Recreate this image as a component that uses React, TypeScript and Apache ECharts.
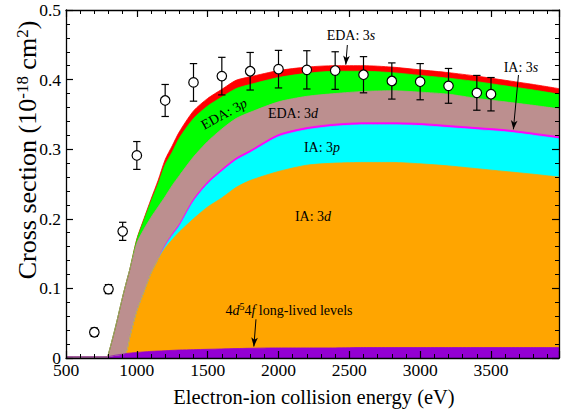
import React, { useEffect, useRef } from 'react';
import * as echarts from 'echarts';

// Model energy grid (eV)
const energy = [500, 790, 800, 850, 900, 925, 950, 1000, 1050, 1100, 1150, 1200, 1250, 1300, 1400, 1500, 1600, 1700, 1800, 2000, 2200, 2400, 2600, 2800, 3000, 3200, 3400, 3600, 3800, 3980];

// Contributions (10^-18 cm^2), listed from bottom layer to top layer
const longLived = [0.0015, 0.0015, 0.002, 0.004, 0.0055, 0.0065, 0.007, 0.008, 0.0088, 0.0095, 0.010, 0.0105, 0.011, 0.0115, 0.012, 0.0125, 0.013, 0.0135, 0.014, 0.0145, 0.0145, 0.0145, 0.015, 0.015, 0.015, 0.015, 0.015, 0.015, 0.015, 0.015];
const ia3d = [0, 0, 0, 0, 0, 0.0015, 0.023, 0.060, 0.0862, 0.1125, 0.132, 0.1475, 0.159, 0.1695, 0.188, 0.2045, 0.217, 0.2315, 0.241, 0.2535, 0.2625, 0.2655, 0.266, 0.266, 0.264, 0.261, 0.257, 0.253, 0.249, 0.245];
const ia3p = [0, 0, 0, 0, 0, 0, 0, 0, 0, 0, 0, 0.0025, 0.006, 0.0085, 0.025, 0.033, 0.038, 0.039, 0.040, 0.050, 0.051, 0.053, 0.054, 0.054, 0.055, 0.055, 0.056, 0.057, 0.056, 0.055];
const ia3s = [0, 0, 0, 0, 0, 0, 0, 0, 0, 0, 0, 0.0015, 0.002, 0.0025, 0.003, 0.003, 0.003, 0.003, 0.003, 0.003, 0.003, 0.003, 0.003, 0.003, 0.003, 0.003, 0.003, 0.003, 0.003, 0.003];
const eda3d = [0, 0, 0.004, 0.041, 0.0825, 0.100, 0.097, 0.097, 0.090, 0.080, 0.075, 0.070, 0.070, 0.070, 0.061, 0.058, 0.058, 0.057, 0.055, 0.047, 0.045, 0.044, 0.045, 0.046, 0.045, 0.045, 0.042, 0.040, 0.040, 0.040];
const eda3p = [0, 0, 0, 0, 0, 0, 0, 0.005, 0.013, 0.023, 0.033, 0.046, 0.048, 0.054, 0.055, 0.051, 0.046, 0.043, 0.040, 0.035, 0.033, 0.032, 0.029, 0.026, 0.024, 0.023, 0.024, 0.023, 0.022, 0.021];
const eda3s = [0, 0, 0, 0, 0, 0, 0, 0.001, 0.002, 0.003, 0.005, 0.007, 0.009, 0.009, 0.011, 0.011, 0.011, 0.012, 0.011, 0.010, 0.009, 0.008, 0.008, 0.008, 0.008, 0.008, 0.008, 0.008, 0.008, 0.008];

// Experiment
const expEnergy = [700, 800, 900, 1000, 1200, 1400, 1600, 1800, 2000, 2200, 2400, 2600, 2800, 3000, 3200, 3400, 3500];
const expValue = [0.037, 0.099, 0.182, 0.291, 0.370, 0.396, 0.405, 0.412, 0.415, 0.414, 0.413, 0.407, 0.398, 0.397, 0.391, 0.381, 0.379];
const expError = [0.006, 0.0065, 0.013, 0.020, 0.023, 0.027, 0.027, 0.027, 0.027, 0.0275, 0.027, 0.026, 0.026, 0.026, 0.025, 0.025, 0.024];

// Axes
const xTicks = [500, 1000, 1500, 2000, 2500, 3000, 3500];
const yTicks = [0, 0.1, 0.2, 0.3, 0.4, 0.5];
const xMin = 500;
const xMax = 3980;

const FONT = "'Liberation Serif', 'Times New Roman', serif";

const layers = [
  { name: '4d5 4f long-lived levels', data: longLived, color: '#9400D3' },
  { name: 'IA: 3d', data: ia3d, color: '#FFA500' },
  { name: 'IA: 3p', data: ia3p, color: '#00FFFF' },
  { name: 'IA: 3s', data: ia3s, color: '#FF00FF' },
  { name: 'EDA: 3d', data: eda3d, color: '#BC8F8F' },
  { name: 'EDA: 3p', data: eda3p, color: '#00FF00' },
  { name: 'EDA: 3s', data: eda3s, color: '#FF0000' },
];

const axisBase = {
  type: 'value' as const,
  axisLine: { show: true, onZero: false, lineStyle: { color: '#000', width: 1.3 } },
  axisTick: { show: true, inside: true, length: 7, lineStyle: { color: '#000', width: 1.2 } },
  minorTick: { show: true, splitNumber: 5, length: 4, lineStyle: { color: '#000', width: 1 } },
  splitLine: { show: false },
  minorSplitLine: { show: false },
  splitArea: { show: false },
  z: 5,
};

const richBase = {
  n: { fontSize: 14, fontFamily: FONT, fill: '#000', verticalAlign: 'bottom' },
  i: { fontSize: 14, fontFamily: FONT, fill: '#000', fontStyle: 'italic', verticalAlign: 'bottom' },
  s: { fontSize: 10, fontFamily: FONT, fill: '#000', verticalAlign: 'top', padding: [0, 0, 6, 0] },
};

function label(text: string, x: number, y: number, rotation = 0) {
  return {
    type: 'text',
    x,
    y,
    rotation,
    z: 20,
    style: {
      text,
      fontSize: 14,
      fontFamily: FONT,
      fill: '#000',
      align: 'center',
      verticalAlign: 'middle',
      rich: richBase,
    },
  };
}

export default function App() {
  const ref = useRef<HTMLDivElement>(null);

  useEffect(() => {
    if (!ref.current) return;
    const chart = echarts.init(ref.current, null, { renderer: 'svg' });

    // running totals (layer tops), bottom layer first
    const running = energy.map(() => 0);
    const tops = layers.map((l) => {
      const top = energy.map((e, i) => {
        running[i] += l.data[i];
        return [e, running[i]];
      });
      return { ...l, top };
    });

    // draw the highest boundary first, so each lower layer paints over it
    const areaSeries = tops
      .slice()
      .reverse()
      .map((l) => ({
        name: l.name,
        type: 'line',
        data: l.top,
        showSymbol: false,
        smooth: 0.25,
        lineStyle: { color: l.color, width: 0.8 },
        areaStyle: { color: l.color, opacity: 1, origin: 'start' },
        z: 2,
        silent: true,
      }));

    const option: any = {
      animation: false,
      grid: { left: 66, right: 2, top: 10, bottom: 57, containLabel: false },
      xAxis: [
        {
          ...axisBase,
          position: 'bottom',
          min: xMin,
          max: xMax,
          interval: 500,
          axisLabel: {
            color: '#000',
            fontFamily: FONT,
            fontSize: 17.5,
            margin: 3,
            formatter: (v: number) => (xTicks.includes(v) ? String(v) : ''),
          },
        },
        {
          ...axisBase,
          position: 'top',
          min: xMin,
          max: xMax,
          interval: 500,
          axisLabel: { show: false },
        },
      ],
      yAxis: [
        {
          ...axisBase,
          position: 'left',
          min: 0,
          max: 0.5,
          interval: 0.1,
          axisLabel: {
            color: '#000',
            fontFamily: FONT,
            fontSize: 17.5,
            margin: 5,
            formatter: (v: number) => {
              const t = yTicks.find((k) => Math.abs(k - v) < 1e-9);
              if (t === undefined) return '';
              return t === 0 ? '0' : t.toFixed(1);
            },
          },
        },
        {
          ...axisBase,
          position: 'right',
          min: 0,
          max: 0.5,
          interval: 0.1,
          axisLabel: { show: false },
        },
      ],
      series: [
        ...areaSeries,
        {
          type: 'custom',
          name: 'error',
          data: expEnergy.map((e, i) => [e, expValue[i], expError[i]]),
          encode: { x: 0, y: 1 },
          z: 6,
          silent: true,
          renderItem: (params: any, api: any) => {
            const x = api.value(0);
            const y = api.value(1);
            const err = api.value(2);
            const top = api.coord([x, y + err]);
            const bot = api.coord([x, y - err]);
            const hw = 3.7;
            const st = { stroke: '#000', lineWidth: 1.2 };
            return {
              type: 'group',
              children: [
                { type: 'line', shape: { x1: top[0], y1: top[1], x2: bot[0], y2: bot[1] }, style: st },
                { type: 'line', shape: { x1: top[0] - hw, y1: top[1], x2: top[0] + hw, y2: top[1] }, style: st },
                { type: 'line', shape: { x1: bot[0] - hw, y1: bot[1], x2: bot[0] + hw, y2: bot[1] }, style: st },
              ],
            };
          },
        },
        {
          type: 'scatter',
          name: 'experiment',
          data: expEnergy.map((e, i) => [e, expValue[i]]),
          symbol: 'circle',
          symbolSize: 9.5,
          itemStyle: { color: '#fff', borderColor: '#000', borderWidth: 1.2, opacity: 1 },
          z: 7,
          silent: true,
          markLine: {
            silent: true,
            symbol: ['none', 'arrow'],
            symbolSize: [5, 9],
            label: { show: false },
            lineStyle: { color: '#000', width: 1, type: 'solid' },
            emphasis: { disabled: true },
            data: [
              [{ coord: [2486, 0.4497] }, { coord: [2475, 0.4215] }],
              [{ coord: [3694, 0.4066] }, { coord: [3658, 0.3285] }],
              [{ coord: [1841, 0.0556] }, { coord: [1826, 0.0165] }],
            ],
          },
        },
      ],
      graphic: [
        label('{n|EDA: 3}{i|s}', 351, 35),
        label('{n|IA: 3}{i|s}', 521, 67),
        label('{n|EDA: 3}{i|p}', 224, 114, 0.5),
        label('{n|EDA: 3}{i|d}', 293, 113),
        label('{n|IA: 3}{i|p}', 322, 147),
        label('{n|IA: 3}{i|d}', 313, 216),
        label('{n|4}{i|d}{s|5}{n|4}{i|f}{n| long-lived levels}', 289, 309),
        {
          type: 'text',
          x: 314,
          y: 397,
          z: 20,
          style: {
            text: 'Electron-ion collision energy (eV)',
            fontSize: 20.5,
            fontFamily: FONT,
            fill: '#000',
            align: 'center',
            verticalAlign: 'middle',
          },
        },
        {
          type: 'text',
          x: 27,
          y: 150,
          rotation: Math.PI / 2,
          z: 20,
          style: {
            text: '{a|Cross section (10}{s|-18}{a| cm}{s|2}{a|)}',
            fontSize: 26,
            fontFamily: FONT,
            fill: '#000',
            align: 'center',
            verticalAlign: 'middle',
            rich: {
              a: { fontSize: 26, fontFamily: FONT, fill: '#000', verticalAlign: 'bottom' },
              s: { fontSize: 17, fontFamily: FONT, fill: '#000', verticalAlign: 'top', padding: [0, 0, 10, 0] },
            },
          },
        },
      ],
    };

    chart.setOption(option);
    return () => chart.dispose();
  }, []);

  return (
    <div
      ref={ref}
      style={{ position: 'fixed', left: 0, top: 0, width: 562, height: 415, background: '#fff' }}
    />
  );
}
